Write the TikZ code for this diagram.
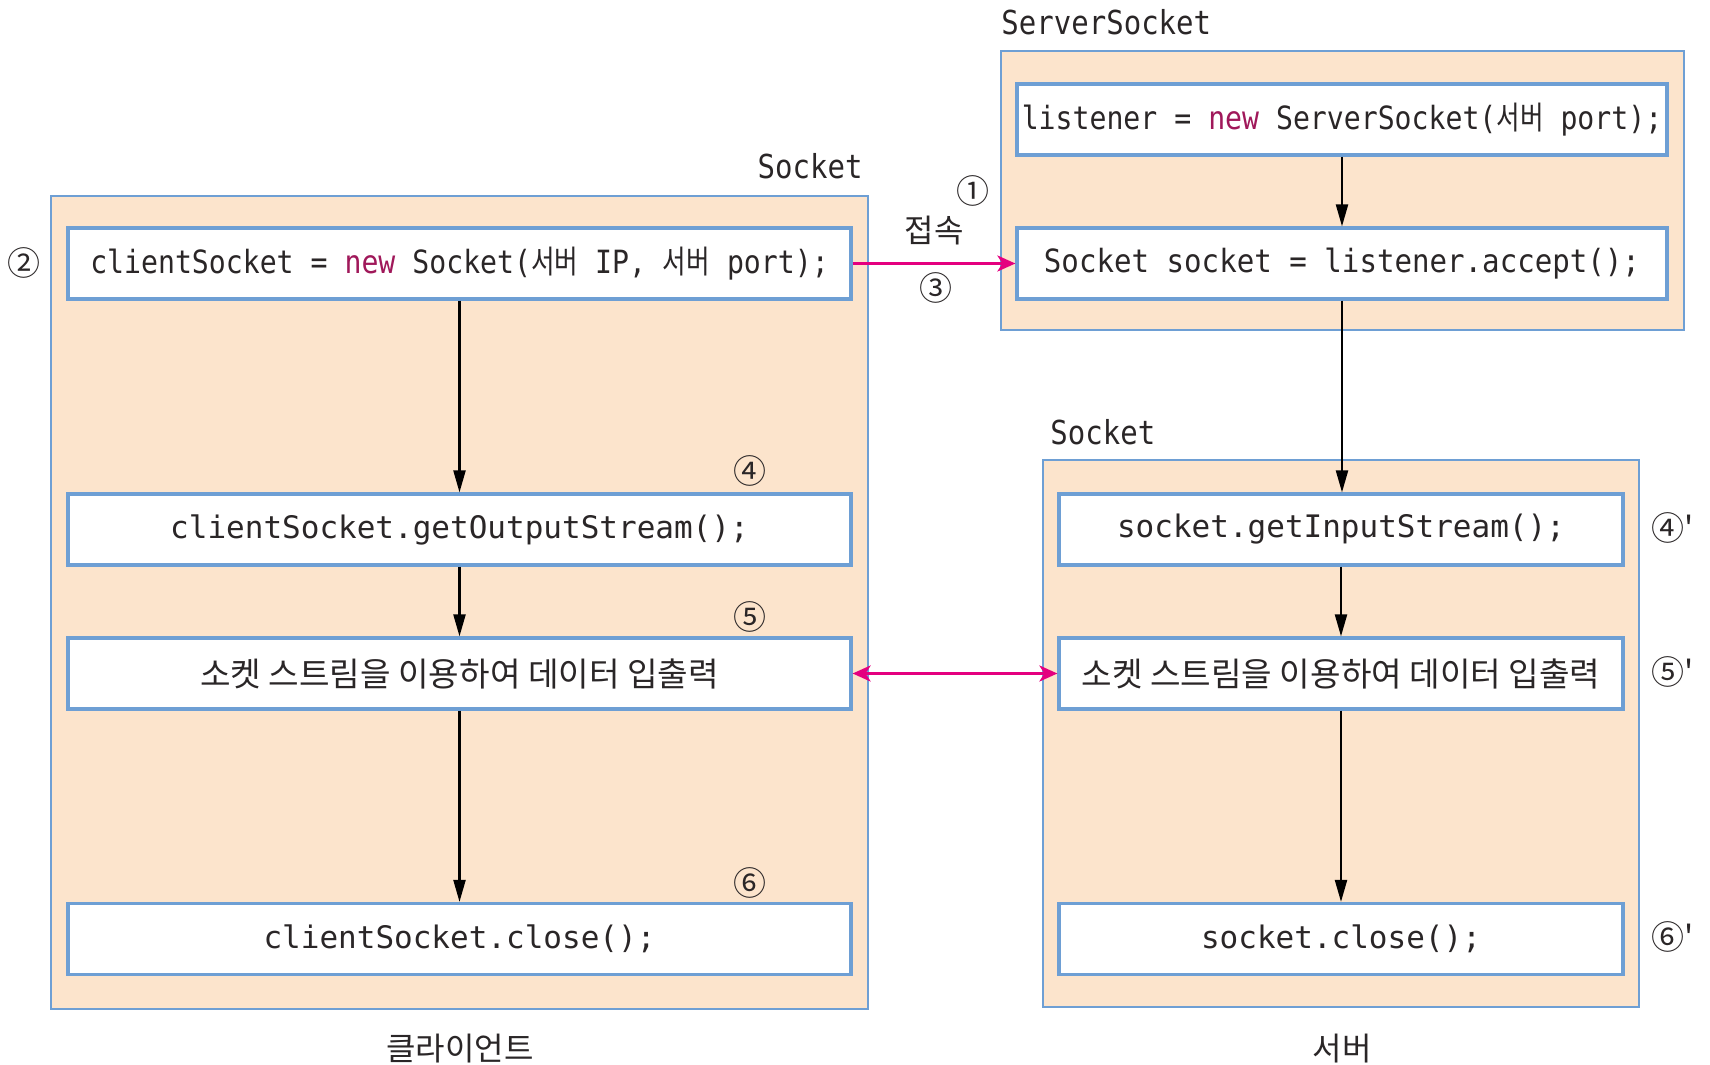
\documentclass[tikz,border=0pt]{standalone}
\usepackage{fontspec}
\usetikzlibrary{arrows.meta}
\setmainfont{Noto Sans CJK KR}
\setmonofont{DejaVu Sans Mono}
\newfontfamily\krfont{Noto Sans CJK KR}
\newfontfamily\cmono[FakeStretch=0.88]{DejaVu Sans Mono}
\newfontfamily\cmonob[FakeStretch=0.91]{DejaVu Sans Mono}
\newfontfamily\ckr[FakeStretch=0.80]{Noto Sans CJK KR}
\definecolor{peach}{HTML}{FCE4CC}
\definecolor{bblue}{HTML}{6E9FD4}
\definecolor{hotpink}{HTML}{E4007F}
\definecolor{newc}{HTML}{A0185A}
\definecolor{ink}{HTML}{2A2627}
\newcommand{\kw}[1]{\textcolor{newc}{#1}}
\newcommand{\sv}{{\ckr 서버}}
\begin{document}
\begin{tikzpicture}[x=0.5pt,y=-0.5pt,
  outerbox/.style={draw=bblue, line width=1.3pt, fill=peach, inner sep=0pt},
  codebox/.style={draw=bblue, line width=1.6pt, fill=white, inner sep=0pt,
    minimum height=35.5pt, text=ink},
  topcode/.style={font=\cmono\fontsize{16}{18}\selectfont},
  topcodeb/.style={font=\cmonob\fontsize{16}{18}\selectfont},
  lowcode/.style={font=\ttfamily\fontsize{15.5}{18}\selectfont},
  krtext/.style={font=\krfont\fontsize{16.6}{18}\selectfont},
  lbl/.style={font=\cmono\fontsize{16.5}{18}\selectfont, text=ink, inner sep=0pt},
  num/.style={font=\krfont\fontsize{16.5}{18}\selectfont, text=ink, inner sep=0pt},
  captxt/.style={font=\krfont\fontsize{16}{18}\selectfont, text=ink, inner sep=0pt},
  arr/.style={-{Triangle[length=11pt,width=6pt]}, line width=1.1pt, black},
  pinkarr/.style={line width=1.5pt, hotpink}]
\useasboundingbox (0,0) rectangle (1710,1065);

% outer containers
\node[outerbox, minimum width=408.5pt, minimum height=406.5pt] (client) at (459.5,602.5) {};
\node[outerbox, minimum width=341.5pt, minimum height=139.5pt] (srvsock) at (1342.5,190.5) {};
\node[outerbox, minimum width=298pt, minimum height=273.5pt] (srv) at (1341,733.5) {};

% container labels
\node[lbl, anchor=west] (lsrvsock) at (1001,22) {ServerSocket};
\node[lbl, anchor=east] (lcsock) at (863,166) {Socket};
\node[lbl, anchor=west] (lssock) at (1050,432) {Socket};

% client boxes
\node[codebox, minimum width=391.5pt, topcode] (c1) at (459.5,263.5)
  {clientSocket = \kw{new} Socket(\sv{} IP, \sv{} port);};
\node[codebox, minimum width=391.5pt, lowcode] (c2) at (459.5,529.5)
  {clientSocket.getOutputStream();};
\node[codebox, minimum width=391.5pt, krtext] (c3) at (459.5,673.5)
  {소켓 스트림을 이용하여 데이터 입출력};
\node[codebox, minimum width=391.5pt, lowcode] (c4) at (459.5,939)
  {clientSocket.close();};

% server boxes
\node[codebox, minimum width=325pt, topcode] (s1) at (1342,119.5)
  {listener = \kw{new} ServerSocket(\sv{} port);};
\node[codebox, minimum width=325pt, topcodeb] (s2) at (1342,263.5)
  {Socket socket = listener.accept();};
\node[codebox, minimum width=282pt, lowcode] (s3) at (1341,529.5)
  {socket.getInputStream();};
\node[codebox, minimum width=282pt, krtext] (s4) at (1341,673.5)
  {소켓 스트림을 이용하여 데이터 입출력};
\node[codebox, minimum width=282pt, lowcode] (s5) at (1341,939)
  {socket.close();};

% step numbers
\node[num] (n2) at (24,263) {②};
\node[num] (n1) at (973,191) {①};
\node[captxt] (conn) at (934,231) {접속};
\node[num] (n3) at (936,288) {③};
\node[num] (n4) at (750,471) {④};
\node[num] (n5) at (750,617) {⑤};
\node[num] (n6) at (750,883) {⑥};
\node[num] (n4p) at (1673,528) {④'};
\node[num] (n5p) at (1673,672) {⑤'};
\node[num] (n6p) at (1673,937) {⑥'};

% captions
\node[captxt] (capc) at (460,1049) {클라이언트};
\node[captxt] (caps) at (1342,1049) {서버};

% flow arrows
\draw[arr] (c1.south) -- (c2.north);
\draw[arr] (c2.south) -- (c3.north);
\draw[arr] (c3.south) -- (c4.north);
\draw[arr] (s1.south) -- (s2.north);
\draw[arr] (s2.south) -- (s2.south |- s3.north);
\draw[arr] (s3.south) -- (s4.north);
\draw[arr] (s4.south) -- (s5.north);

% connection arrows
\draw[pinkarr, -{Stealth[length=9pt,width=8pt,inset=2.5pt]}] (c1.east) -- (s2.west);
\draw[pinkarr, {Stealth[length=9pt,width=8pt,inset=2.5pt]}-{Stealth[length=9pt,width=8pt,inset=2.5pt]}] (c3.east) -- (s4.west);
\end{tikzpicture}
\end{document}
